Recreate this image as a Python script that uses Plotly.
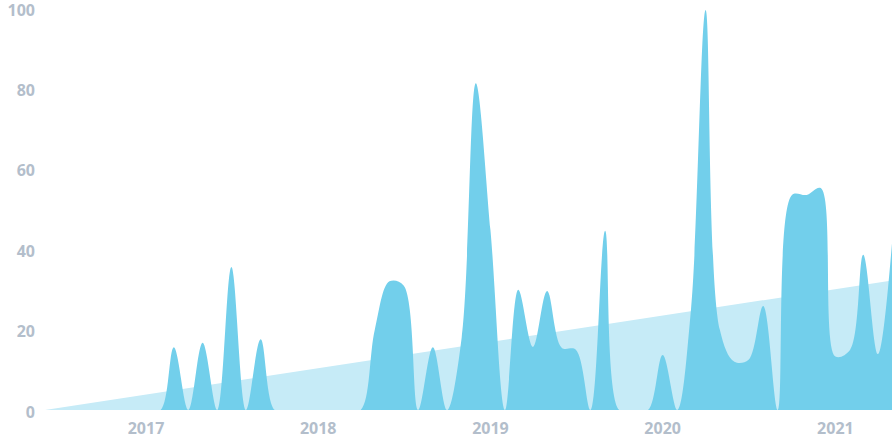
import pandas as pd
import plotly.graph_objects as go

# Monthly series, June 2016 .. May 2021
months = pd.date_range("2016-06-01", "2021-05-01", freq="MS")
values = [
    # 2016 Jun-Dec
    0, 0, 0, 0, 0, 0, 0,
    # 2017
    0, 0, 15.6, 0, 16.7, 0, 35.6, 0, 17.6, 0, 0, 0,
    # 2018
    0, 0, 0, 0, 20, 32, 31, 0, 15.6, 0, 18, 81.3,
    # 2019
    44.8, 0, 29.9, 15.7, 29.6, 15.5, 15, 0, 44.6, 0, 0, 0,
    # 2020
    13.7, 0, 25, 99.5, 20, 12, 12.5, 25.9, 0, 53.5, 53.5, 55.2,
    # 2021 Jan-May
    13.3, 14.9, 38.6, 13.9, 41.5,
]

trend_dates = ["2016-06-01", "2021-05-01"]
trend_values = [0, 32.2]

y_ticks = [0, 20, 40, 60, 80, 100]
x_ticks = ["2017-01-01", "2018-01-01", "2019-01-01", "2020-01-01", "2021-01-01"]
x_tick_labels = ["2017", "2018", "2019", "2020", "2021"]

MAIN = "#72CFEB"
TREND = "#C6EBF7"
LABEL = "#B3BECB"
FONT = dict(family="Open Sans", size=16, color=LABEL, weight=700)

fig = go.Figure()
fig.add_trace(go.Scatter(
    x=trend_dates, y=trend_values, mode="lines", fill="tozeroy",
    line=dict(width=0, color=TREND), fillcolor=TREND, hoverinfo="skip",
))
fig.add_trace(go.Scatter(
    x=months, y=values, mode="lines", fill="tozeroy",
    line=dict(width=0, color=MAIN, shape="spline", smoothing=1),
    fillcolor=MAIN,
))

fig.update_layout(
    width=896, height=448,
    margin=dict(l=45, r=3.5, t=8, b=38),
    paper_bgcolor="white", plot_bgcolor="white",
    showlegend=False,
    font=FONT,
)
fig.update_xaxes(
    type="date", range=[months[0], months[-1]],
    tickvals=x_ticks, ticktext=x_tick_labels,
    showgrid=False, zeroline=False, showline=False, ticks="",
    ticklabelstandoff=7, automargin=False,
    tickfont=FONT,
)
fig.update_yaxes(
    range=[0, 100], tickvals=y_ticks,
    showgrid=False, zeroline=False, showline=False, ticks="",
    ticklabelstandoff=9, ticklabelshift=2, automargin=False,
    ticklabeloverflow="allow",
    tickfont=FONT,
)

fig.write_html(
    "out.html",
    config={"displayModeBar": False},
    post_script="document.body.style.margin='0';",
)
